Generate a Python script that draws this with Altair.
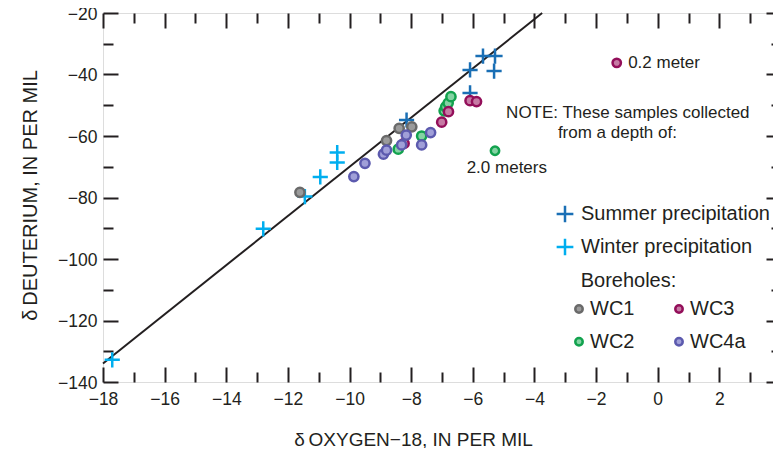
import altair as alt
import pandas as pd

FONT = "Liberation Sans, Arial, sans-serif"
INK = "#231f20"
CROSS = "M-1,0H1M0,-1V1"

# Global meteoric water line end points
line_x = [-18.0, -3.75]
line_y = [-134.0, -20.0]

# Precipitation samples
summer_x = [-8.15, -6.09, -6.09, -5.67, -5.28, -5.31]
summer_y = [-54.8, -46.0, -38.5, -34.0, -34.0, -38.9]
winter_x = [-17.7, -12.8, -11.45, -10.95, -10.4, -10.4]
winter_y = [-132.8, -90.2, -79.7, -73.3, -68.6, -65.4]

# Borehole samples
wc1_x = [-11.61, -8.80, -8.39, -7.98]
wc1_y = [-78.3, -61.5, -57.5, -57.0]
wc2_x = [-8.42, -7.66, -6.93, -6.88, -6.80, -6.71]
wc2_y = [-64.3, -60.0, -51.8, -50.5, -49.3, -47.2]
wc3_x = [-8.23, -7.01, -6.79, -6.09, -5.88]
wc3_y = [-62.4, -55.5, -52.1, -48.5, -48.8]
wc4a_x = [-9.86, -9.50, -8.90, -8.80, -8.31, -8.16, -7.66, -7.37]
wc4a_y = [-73.2, -68.9, -65.9, -64.6, -62.9, -59.7, -62.9, -58.9]

# Depth-annotated samples
note_bore = ["WC3", "WC2"]
note_x = [-1.33, -5.28]
note_y = [-36.2, -64.8]

# Annotation texts
text_labels = ["0.2 meter", "NOTE: These samples collected", "from a depth of:", "2.0 meters"]
text_x = [-0.96, -4.92, -3.24, -6.20]
text_y = [-36.4, -52.4, -58.9, -70.3]
head_label = ["Boreholes:"]
head_x = [-2.50]
head_y = [-107.2]

x_major = list(range(-18, 5, 2))
x_minor = list(range(-17, 4, 2))
y_major = list(range(-140, -19, 20))
y_minor = list(range(-130, -29, 20))

precip_types = ["Summer precipitation", "Winter precipitation"]
precip_colors = ["#1a6fb5", "#00aeef"]
bore_names = ["WC1", "WC2", "WC3", "WC4a"]
bore_fill = ["#9b9b9b", "#84d3a3", "#c67aa4", "#a09fd8"]
bore_stroke = ["#6a6a6a", "#12a24e", "#930f5a", "#5c5aae"]

line_df = pd.DataFrame({"x": line_x, "y": line_y})
precip_df = pd.DataFrame({
    "x": summer_x + winter_x,
    "y": summer_y + winter_y,
    "type": [precip_types[0]] * len(summer_x) + [precip_types[1]] * len(winter_x),
})
bore_df = pd.DataFrame({
    "x": wc1_x + wc2_x + wc3_x + wc4a_x,
    "y": wc1_y + wc2_y + wc3_y + wc4a_y,
    "borehole": ["WC1"] * len(wc1_x) + ["WC2"] * len(wc2_x) + ["WC3"] * len(wc3_x) + ["WC4a"] * len(wc4a_x),
})
note_df = pd.DataFrame({"x": note_x, "y": note_y, "borehole": note_bore})
text_df = pd.DataFrame({"x": text_x, "y": text_y, "label": text_labels})
head_df = pd.DataFrame({"x": head_x, "y": head_y, "label": head_label})

xs = alt.Scale(domain=[-18, 4], nice=False, zero=False)
ys = alt.Scale(domain=[-140, -20], nice=False, zero=False)


def tick_axis(orient, values, size):
    return alt.Axis(orient=orient, values=values, tickSize=size, offset=-size,
                    domain=False, labels=False, grid=False, ticks=True,
                    tickColor=INK, tickWidth=2)


x_main_axis = alt.Axis(
    orient="bottom", values=x_major, tickSize=15, offset=-15, domain=False, grid=False,
    tickColor=INK, tickWidth=2, labelFlush=False, labelOverlap=False, labelPadding=8,
    labelFont=FONT, labelFontSize=17.5, labelColor=INK,
    title="δ\u2009OXYGEN−18, IN PER MIL", titleFont=FONT, titleFontSize=19,
    titleFontWeight="normal", titleColor=INK, titleX=310, titleY=72, titleBaseline="middle",
)
y_main_axis = alt.Axis(
    orient="left", values=y_major, tickSize=15, offset=-15, domain=False, grid=False,
    tickColor=INK, tickWidth=2, labelFlush=False, labelOverlap=False, labelPadding=6,
    labelOffset=1,
    labelFont=FONT, labelFontSize=17.5, labelColor=INK,
    title="δ\u2009DEUTERIUM, IN PER MIL", titleFont=FONT, titleFontSize=20,
    titleFontWeight="normal", titleColor=INK, titleX=-88, titleY=182, titleBaseline="middle",
)

line = alt.Chart(line_df).mark_line(color=INK, strokeWidth=2).encode(
    x=alt.X("x:Q", scale=xs, axis=x_main_axis),
    y=alt.Y("y:Q", scale=ys, axis=y_main_axis),
)

precip = alt.Chart(precip_df).mark_point(
    shape=CROSS, filled=False, strokeWidth=2.5, size=230, opacity=1
).encode(
    x=alt.X("x:Q", scale=xs, axis=tick_axis("bottom", x_minor, 10), title=None),
    y=alt.Y("y:Q", scale=ys, axis=tick_axis("left", y_minor, 10), title=None),
    color=alt.Color("type:N", scale=alt.Scale(domain=precip_types, range=precip_colors),
                    legend=alt.Legend(orient="none", legendX=452, legendY=191, title=None,
                                      padding=0, symbolType=CROSS, symbolSize=280,
                                      symbolStrokeWidth=2.5, labelFont=FONT, labelFontSize=20,
                                      labelColor=INK, labelLimit=400, labelOffset=6,
                                      rowPadding=5)),
)

bore_legend = alt.Legend(orient="none", legendX=466, legendY=286, title=None, padding=0,
                         columns=2, columnPadding=34, rowPadding=12.7, symbolType="circle",
                         symbolSize=55, symbolStrokeWidth=2.5, labelFont=FONT,
                         labelFontSize=20, labelColor=INK, labelOffset=1)

bores = alt.Chart(bore_df).mark_point(
    shape="circle", filled=True, size=85, strokeWidth=2.5, opacity=1
).encode(
    x=alt.X("x:Q", scale=xs, axis=tick_axis("top", x_major, 15), title=None),
    y=alt.Y("y:Q", scale=ys, axis=tick_axis("right", y_major, 15), title=None),
    fill=alt.Fill("borehole:N", scale=alt.Scale(domain=bore_names, range=bore_fill), legend=bore_legend),
    stroke=alt.Stroke("borehole:N", scale=alt.Scale(domain=bore_names, range=bore_stroke), legend=bore_legend),
)

notes = alt.Chart(note_df).mark_point(
    shape="circle", filled=True, size=70, strokeWidth=2.5, opacity=1
).encode(
    x=alt.X("x:Q", scale=xs, axis=tick_axis("top", x_minor, 10), title=None),
    y=alt.Y("y:Q", scale=ys, axis=tick_axis("right", y_minor, 10), title=None),
    fill=alt.Fill("borehole:N", scale=alt.Scale(domain=bore_names, range=bore_fill), legend=bore_legend),
    stroke=alt.Stroke("borehole:N", scale=alt.Scale(domain=bore_names, range=bore_stroke), legend=bore_legend),
)

texts = alt.Chart(text_df).mark_text(
    align="left", baseline="middle", font=FONT, fontSize=17, color=INK
).encode(
    x=alt.X("x:Q", scale=xs, axis=None),
    y=alt.Y("y:Q", scale=ys, axis=None),
    text="label:N",
)

head = alt.Chart(head_df).mark_text(
    align="left", baseline="middle", font=FONT, fontSize=20, color=INK
).encode(
    x=alt.X("x:Q", scale=xs, axis=None),
    y=alt.Y("y:Q", scale=ys, axis=None),
    text="label:N",
)

chart = alt.layer(line, precip, bores, notes, texts, head).resolve_axis(
    x="independent", y="independent"
).properties(
    width=678, height=369,
    autosize=alt.AutoSizeParams(type="none"),
    padding={"left": 95, "top": 5, "right": -8, "bottom": 66},
).configure_view(stroke=INK, strokeWidth=2).configure(background="white")

chart.save("out.html", embed_options={"renderer": "svg", "actions": False})
